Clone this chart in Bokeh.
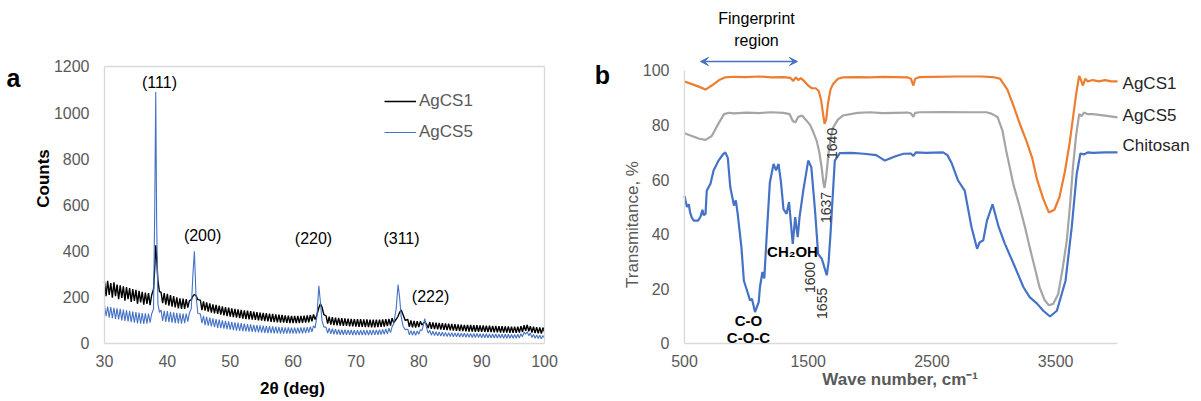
import math
from bokeh.plotting import figure
from bokeh.layouts import row
from bokeh.models import (Label, Legend, LegendItem, FixedTicker, Range1d,
                          Arrow, VeeHead, LinearAxis)
from bokeh.embed import file_html
from bokeh.resources import INLINE

# ---------------- XRD data (panel a) ----------------
# 2-theta sample positions, segment by segment
tt_a = [30, 30.25, 30.5, 30.75, 31, 31.25, 31.5, 31.75, 32, 32.25, 32.5, 32.75,
        33, 33.25, 33.5, 33.75, 34, 34.25, 34.5, 34.75, 35, 35.25, 35.5, 35.75,
        36, 36.25, 36.5, 36.75, 37, 37.25, 37.5]
tt_p1 = [37.8, 38.0, 38.15, 38.3, 38.5, 38.75]
tt_b = [39, 39.25, 39.5, 39.75, 40, 40.25, 40.5, 40.75, 41, 41.25, 41.5, 41.75,
        42, 42.25, 42.5, 42.75, 43, 43.25, 43.5]
tt_p2 = [43.8, 44.05, 44.3, 44.55, 44.85]
tt_c = [45.25, 45.5, 45.75,
        46, 46.25, 46.5, 46.75, 47, 47.25, 47.5, 47.75, 48, 48.25, 48.5, 48.75,
        49, 49.25, 49.5, 49.75, 50, 50.25, 50.5, 50.75, 51, 51.25, 51.5, 51.75,
        52, 52.25, 52.5, 52.75, 53, 53.25, 53.5, 53.75, 54, 54.25, 54.5, 54.75,
        55, 55.25, 55.5, 55.75, 56, 56.25, 56.5, 56.75, 57, 57.25, 57.5, 57.75,
        58, 58.25, 58.5, 58.75, 59, 59.25, 59.5, 59.75, 60, 60.25, 60.5, 60.75,
        61, 61.25, 61.5, 61.75, 62, 62.25, 62.5, 62.75,
        63, 63.25, 63.5]
tt_p3 = [63.8, 64.1, 64.35, 64.6, 64.9]
tt_d = [65.25, 65.5, 65.75,
        66, 66.25, 66.5, 66.75, 67, 67.25, 67.5, 67.75, 68, 68.25, 68.5, 68.75,
        69, 69.25, 69.5, 69.75, 70, 70.25, 70.5, 70.75, 71, 71.25, 71.5, 71.75,
        72, 72.25, 72.5, 72.75, 73, 73.25, 73.5, 73.75, 74, 74.25, 74.5, 74.75,
        75, 75.25, 75.5, 75.75,
        76]
tt_p4 = [76.4, 76.7, 76.95, 77.2, 77.5, 77.85]
tt_e = [78.25, 78.5, 78.75, 79, 79.25, 79.5, 79.75, 80, 80.25, 80.5]
tt_p5 = [80.75, 80.95, 81.2]
tt_f = [81.5, 81.75,
        82, 82.25, 82.5, 82.75, 83, 83.25, 83.5, 83.75, 84, 84.25, 84.5, 84.75,
        85, 85.25, 85.5, 85.75, 86, 86.25, 86.5, 86.75, 87, 87.25, 87.5, 87.75,
        88, 88.25, 88.5, 88.75, 89, 89.25, 89.5, 89.75, 90, 90.25, 90.5, 90.75,
        91, 91.25, 91.5, 91.75, 92, 92.25, 92.5, 92.75, 93, 93.25, 93.5, 93.75,
        94, 94.25, 94.5, 94.75, 95, 95.25, 95.5, 95.75, 96, 96.25, 96.5, 96.75,
        97, 97.25, 97.5, 97.75, 98, 98.25, 98.5, 98.75, 99, 99.25, 99.5, 99.75,
        100]

# AgCS1 counts (black)
c1_a = [268, 205, 272, 210, 262, 198, 265, 205, 255, 192, 252, 198, 248, 186,
        244, 192, 240, 180, 236, 184, 232, 172, 228, 178, 224, 168, 220, 172,
        218, 166, 210]
c1_p1 = [235, 330, 425, 370, 270, 225]
c1_b = [222, 175, 218, 168, 215, 164, 210, 160, 205, 156, 200, 152, 196, 150,
        194, 150, 192, 155, 185]
c1_p2 = [190, 205, 212, 208, 190]
c1_c = [188, 145, 182,
        142, 178, 138, 174, 134, 170, 131, 167, 128, 164, 125, 161,
        122, 158, 119, 155, 116, 152, 114, 150, 112, 148, 110, 146,
        108, 144, 106, 142, 104, 140, 103, 138, 102, 136, 100, 134,
        99, 133, 97, 131, 96, 129, 94, 128, 93, 126, 92, 125,
        91, 124, 90, 122, 89, 121, 88, 120, 88, 120, 88, 120,
        88, 120, 89, 121, 90, 122, 92, 124,
        96, 126, 104]
c1_p3 = [125, 155, 172, 158, 125]
c1_d = [120, 86, 116,
        82, 114, 80, 112, 79, 111, 78, 110, 76, 109, 76, 108,
        74, 107, 74, 106, 73, 105, 72, 105, 72, 104, 71, 104,
        71, 103, 70, 103, 70, 103, 71, 103, 72, 104, 73, 105,
        75, 107, 78, 110,
        90]
c1_p4 = [105, 118, 135, 145, 125, 100]
c1_e = [104, 72, 100, 70, 98, 69, 97, 71, 96, 80]
c1_p5 = [88, 95, 85]
c1_f = [67, 93,
        63, 91, 62, 90, 61, 89, 60, 88, 59, 87, 58, 86,
        57, 85, 56, 84, 55, 83, 54, 82, 54, 81, 53, 81,
        52, 80, 52, 79, 51, 79, 51, 78, 50, 78, 50, 77,
        49, 77, 49, 76, 48, 76, 48, 75, 47, 75, 47, 74,
        47, 74, 46, 73, 46, 73, 46, 73, 47, 75, 50, 79,
        55, 81, 53, 75, 47, 73, 45, 71, 44, 70, 43, 69,
        50]

# AgCS5 counts (blue)
c5_a = [165, 118, 160, 112, 158, 110, 155, 106, 152, 104, 150, 100, 147, 98,
        144, 96, 141, 92, 138, 90, 136, 87, 134, 86, 132, 85, 131, 86,
        130, 90, 128]
c5_p1 = [150, 600, 1090, 520, 170, 135]
c5_b = [145, 98, 142, 94, 140, 92, 137, 90, 135, 88, 133, 87, 131, 86,
        130, 88, 130, 95, 132]
c5_p2 = [150, 290, 400, 210, 130]
c5_c = [128, 88, 120,
        80, 116, 77, 112, 74, 109, 71, 106, 68, 103, 66, 100,
        64, 98, 62, 96, 60, 94, 58, 92, 56, 90, 55, 88,
        53, 86, 52, 84, 51, 83, 50, 81, 49, 80, 48, 79,
        47, 78, 46, 76, 45, 75, 45, 74, 44, 73, 44, 72,
        43, 71, 43, 70, 43, 70, 43, 69, 43, 69, 43, 69,
        44, 70, 44, 70, 45, 71, 47, 73,
        50, 76, 68]
c5_p3 = [120, 250, 180, 100, 72]
c5_d = [70, 45, 66,
        42, 64, 40, 62, 39, 61, 38, 60, 38, 60, 37, 59,
        37, 59, 36, 58, 36, 58, 36, 58, 36, 58, 36, 58,
        36, 58, 37, 59, 37, 59, 38, 60, 39, 61, 40, 63,
        42, 66, 47, 72,
        85]
c5_p4 = [150, 255, 200, 115, 75, 60]
c5_e = [62, 38, 56, 36, 54, 35, 54, 40, 60, 56]
c5_p5 = [82, 108, 72]
c5_f = [45, 57,
        36, 53, 34, 51, 33, 50, 32, 49, 31, 48, 30, 47,
        30, 47, 29, 46, 29, 46, 28, 45, 28, 45, 27, 44,
        27, 44, 26, 43, 26, 43, 26, 42, 25, 42, 25, 42,
        25, 41, 24, 41, 24, 41, 24, 40, 24, 40, 23, 40,
        23, 40, 23, 39, 23, 39, 23, 40, 24, 42, 29, 49,
        40, 51, 34, 45, 26, 39, 23, 37, 22, 36, 21, 35,
        24]

xrd_2theta = tt_a + tt_p1 + tt_b + tt_p2 + tt_c + tt_p3 + tt_d + tt_p4 + tt_e + tt_p5 + tt_f
agcs1_counts = c1_a + c1_p1 + c1_b + c1_p2 + c1_c + c1_p3 + c1_d + c1_p4 + c1_e + c1_p5 + c1_f
agcs5_counts = c5_a + c5_p1 + c5_b + c5_p2 + c5_c + c5_p3 + c5_d + c5_p4 + c5_e + c5_p5 + c5_f

xrd_xticks = [30, 40, 50, 60, 70, 80, 90, 100]
xrd_yticks = [0, 200, 400, 600, 800, 1000, 1200]
xrd_peaks = ["(111)", "(200)", "(220)", "(311)", "(222)"]

# ---------------- FTIR data (panel b) ----------------
agcs1_wn = [500, 560, 620, 670, 720, 780, 830, 900, 1000, 1100,
            1200, 1300, 1355, 1380, 1400, 1420, 1440, 1470, 1500, 1530,
            1560, 1585, 1605, 1620, 1632, 1645, 1660, 1680, 1700, 1740,
            1780, 1900, 2000, 2100, 2200, 2300, 2330, 2350, 2365, 2400,
            2500, 2700, 2900, 2990, 3050, 3110, 3160, 3210, 3265, 3310,
            3350, 3400, 3445, 3490, 3530, 3575, 3615, 3650, 3670, 3690,
            3705, 3720, 3740, 3760, 3800, 3850, 3900, 3950, 4000]
agcs1_t = [96, 95, 94, 93, 94.5, 96.5, 97.5, 97.7, 97.6, 97.8,
           97.5, 97.6, 97.3, 96.2, 97.5, 96.5, 97.2, 96, 94.5, 93.5,
           93.5, 92.5, 89, 84, 80.5, 82, 88, 93, 95, 97,
           97.5, 97.6, 97.5, 97.7, 97.6, 97.5, 97, 94.5, 97, 97.6,
           97.7, 97.8, 97.8, 97.6, 97, 93, 87, 80.5, 74, 68,
           60, 53, 48, 49, 53.5, 63, 74, 86, 92.6, 98,
           96.5, 94.5, 97, 96, 96.5, 96, 96.5, 96, 96]

agcs5_wn = [500, 560, 620, 670, 720, 780, 820, 860, 900, 1000,
            1100, 1200, 1300, 1350, 1375, 1395, 1420, 1450, 1480, 1516,
            1545, 1570, 1590, 1610, 1622, 1632, 1645, 1665, 1685, 1700,
            1740, 1780, 1900, 2000, 2100, 2200, 2300, 2330, 2350, 2365,
            2400, 2600, 2800, 2940, 2980, 3030, 3070, 3100, 3160, 3210,
            3250, 3290, 3330, 3370, 3410, 3445, 3480, 3520, 3555, 3590,
            3615, 3640, 3665, 3690, 3710, 3730, 3760, 3800, 3900, 4000]
agcs5_t = [77, 76, 75, 74.6, 76, 81, 84, 84.5, 84.3, 84.6,
           84.4, 84.7, 84.5, 84, 81.5, 81, 83, 83.5, 82, 80,
           77, 74, 70, 64, 59, 57, 61, 70, 76, 79,
           82, 83.5, 84.5, 84.7, 84.4, 84.5, 84.6, 84.3, 83, 84.5,
           84.7, 84.8, 84.7, 84.7, 84.2, 83, 78, 70.7, 58, 50,
           43, 35.3, 28, 20.6, 16, 14, 14.5, 18, 27, 37.7,
           50, 64.6, 76, 84, 83.3, 84.6, 84, 84, 83.5, 82.8]

chitosan_wn = [500, 520, 535, 545, 560, 575, 610, 630, 645, 655,
               670, 680, 710, 735, 775, 815, 830, 850, 870, 900,
               915, 930, 960, 980, 1005, 1030, 1045, 1070, 1100, 1110,
               1130, 1145, 1165, 1190, 1220, 1240, 1260, 1280, 1300, 1325,
               1345, 1375, 1395, 1415, 1430, 1460, 1500, 1525, 1555, 1580,
               1610, 1630, 1650, 1665, 1680, 1715, 1755, 1850, 1950, 2050,
               2120, 2200, 2270, 2330, 2350, 2370, 2450, 2590, 2625, 2660,
               2710, 2765, 2820, 2865, 2885, 2915, 2945, 2990, 3040, 3090,
               3160, 3240, 3290, 3350, 3400, 3455, 3510, 3580, 3630, 3670,
               3700, 3730, 3760, 3800, 3900, 4000]
chitosan_t = [54, 50, 51, 48, 46, 45, 45, 46.5, 49, 47,
              47.5, 56, 58.5, 63.4, 67, 69.5, 70, 68, 57.3, 50.5,
              52.4, 47.5, 35.3, 23, 19.4, 15.8, 16.4, 11.5, 15.2, 20.7,
              26.2, 23.8, 40, 59, 65.8, 63.4, 65.8, 59, 49.2, 47.5,
              51.8, 36.5, 46.3, 39, 46.3, 56, 67, 64.6, 48.8, 32.8,
              31, 28, 25, 30, 40, 67, 69.7, 69.8, 69.5, 69,
              67, 68.5, 69.5, 69.6, 68.7, 70, 69.8, 70, 69, 66,
              59.8, 56, 42.6, 34.7, 37, 37.8, 45, 51, 42.6, 36.5,
              29.2, 20.6, 17, 14.6, 12, 9.9, 12, 23, 42.6, 62,
              69.6, 69.3, 70, 69.8, 70, 70]
ftir_xticks = [500, 1500, 2500, 3500]
ftir_yticks = [0, 20, 40, 60, 80, 100]
band_labels = ["1600", "1655", "1637", "1640"]

FONT = "Liberation Sans"
TICK_COLOR = "#595959"
AXIS_COLOR = "#D9D9D9"
BLUE = "#4472C4"
ORANGE = "#ED7D31"
GRAY = "#A5A5A5"


def style_axis(ax, with_labels=True):
    ax.axis_line_color = AXIS_COLOR
    ax.axis_line_width = 1.3
    ax.major_tick_line_color = None
    ax.minor_tick_line_color = None
    ax.major_tick_in = 0
    ax.major_tick_out = 0
    ax.minor_tick_in = 0
    ax.minor_tick_out = 0
    ax.major_label_text_font = FONT
    ax.major_label_text_font_size = "16px"
    ax.major_label_text_color = TICK_COLOR if with_labels else None


def make_fig(width, xr, yr):
    p = figure(width=width, height=400, output_backend="svg",
               toolbar_location=None, x_range=Range1d(*xr), y_range=Range1d(*yr),
               min_border=0, min_border_left=0, min_border_right=0,
               min_border_top=0, min_border_bottom=0)
    p.outline_line_color = None
    p.xgrid.visible = False
    p.ygrid.visible = False
    p.background_fill_color = "white"
    p.border_fill_color = "white"
    return p


def add_label(p, x, y, text, size="16px", style="normal", color="black",
              angle=0.0, align="center", baseline="middle"):
    p.add_layout(Label(x=x, y=y, text=text, text_font=FONT, text_font_size=size,
                       text_font_style=style, text_color=color, angle=angle,
                       text_align=align, text_baseline=baseline))


# ---------------- panel a ----------------
p1 = make_fig(593, (13.455, 107.795), (-246.93, 1485.9))
xa = p1.xaxis[0]
ya = p1.yaxis[0]
style_axis(xa)
style_axis(ya)
xa.fixed_location = 0
ya.fixed_location = 30
xa.bounds = (30, 100)
ya.bounds = (0, 1200)
xa.ticker = FixedTicker(ticks=xrd_xticks)
ya.ticker = FixedTicker(ticks=xrd_yticks)
ya.major_label_standoff = 15
xa.major_label_standoff = 12

top_ax = LinearAxis(fixed_location=1200, bounds=(30, 100),
                    ticker=FixedTicker(ticks=[]))
style_axis(top_ax, with_labels=False)
p1.add_layout(top_ax, "above")
right_ax = LinearAxis(fixed_location=100, bounds=(0, 1200),
                      ticker=FixedTicker(ticks=[]))
style_axis(right_ax, with_labels=False)
p1.add_layout(right_ax, "right")

r_black = p1.line(xrd_2theta, agcs1_counts, line_color="black", line_width=1.4)
r_blue = p1.line(xrd_2theta, agcs5_counts, line_color=BLUE, line_width=1.1)

leg = Legend(items=[LegendItem(label="AgCS1", renderers=[r_black]),
                    LegendItem(label="AgCS5", renderers=[r_blue])],
             location=(384, 254), padding=0, margin=0, spacing=3,
             glyph_width=32, glyph_height=28, label_height=28,
             label_standoff=3, border_line_color=None,
             background_fill_alpha=0, label_text_font=FONT,
             label_text_font_size="17px", label_text_color=TICK_COLOR)
p1.add_layout(leg, "center")

peak_pos = [(38.75, 1131), (45.6, 468), (63.25, 455), (77.25, 455), (81.87, 204)]
for (px, py), t in zip(peak_pos, xrd_peaks):
    add_label(p1, px, py, t, size="16px")

add_label(p1, 15.5, 1152, "a", size="25px", style="bold")
add_label(p1, 20.3, 715, "Counts", size="17px", style="bold", angle=math.pi / 2)
add_label(p1, 59.9, -195, "2θ (deg)", size="17px", style="bold")

# ---------------- panel b ----------------
p2 = make_fig(607, (-235.57, 4670.9), (-20.88, 125.64))
xb = p2.xaxis[0]
yb = p2.yaxis[0]
style_axis(xb)
style_axis(yb)
xb.fixed_location = 0
yb.fixed_location = 500
xb.bounds = (500, 4000)
yb.bounds = (0, 100)
xb.ticker = FixedTicker(ticks=ftir_xticks)
yb.ticker = FixedTicker(ticks=ftir_yticks)
yb.major_label_standoff = 15
xb.major_label_standoff = 12

p2.line(chitosan_wn, chitosan_t, line_color=BLUE, line_width=2.2)
p2.line(agcs5_wn, agcs5_t, line_color=GRAY, line_width=2.2)
p2.line(agcs1_wn, agcs1_t, line_color=ORANGE, line_width=2.2)

add_label(p2, 4041, 95.2, "AgCS1", size="17px", color="#262626", align="left")
add_label(p2, 4041, 83.5, "AgCS5", size="17px", color="#262626", align="left")
add_label(p2, 4041, 72.5, "Chitosan", size="17px", color="#262626", align="left")

add_label(p2, -163, 98.2, "b", size="25px", style="bold")
add_label(p2, 80, 43.6, "Transmitance, %", size="17px", color=TICK_COLOR,
          angle=math.pi / 2)
add_label(p2, 2262, -13.2, "Wave  number, cm\u207b\u00b9", size="17px",
          style="bold", color=TICK_COLOR)

add_label(p2, 1082, 119, "Fingerprint", size="16px")
add_label(p2, 1082, 111, "region", size="16px")
p2.add_layout(Arrow(x_start=629, y_start=103.3, x_end=1413, y_end=103.3,
                    line_color=BLUE, line_width=1.5,
                    start=VeeHead(size=8, line_color=BLUE, fill_color=BLUE),
                    end=VeeHead(size=8, line_color=BLUE, fill_color=BLUE)))

add_label(p2, 1017, 8.4, "C-O", size="15px", style="bold")
add_label(p2, 1017, 2.2, "C-O-C", size="15px", style="bold")
add_label(p2, 1373, 33.7, "CH\u2082OH", size="15px", style="bold")

band_pos = [(1518, 24.2), (1615, 14.7), (1640, 49.8), (1696, 73.3)]
for (bx, by), t in zip(band_pos, band_labels):
    add_label(p2, bx, by, t, size="14px", color="#333333", angle=math.pi / 2)

layout = row(p1, p2)
open("out.html", "w").write(file_html(layout, INLINE))
